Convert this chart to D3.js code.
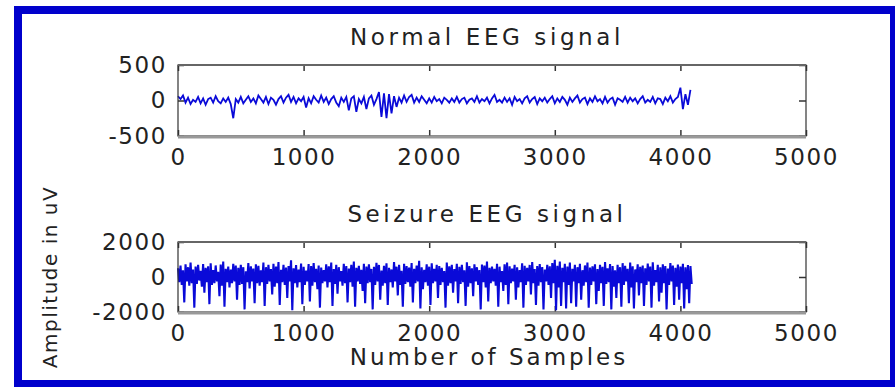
<!DOCTYPE html>
<html lang="en">
<head>
<meta charset="UTF-8">
<title>Normal vs Seizure EEG signal</title>
<script src="https://d3js.org/d3.v7.min.js"></script>
<style>
  body { margin: 0; background: #fff; }
  text { font-family: "DejaVu Sans", sans-serif; fill: #222; }
  .tick line { stroke: #333; stroke-width: 1.5; }
  .tick text { font-size: 23px; letter-spacing: 1.6px; fill: #222; }
  .title { font-size: 23px; letter-spacing: 3.6px; }
  .trace { fill: none; stroke: #0a0ad8; stroke-width: 1.8; stroke-linejoin: miter; }
  .trace.dense { stroke-width: 2.1; }
</style>
</head>
<body>
<svg id="chart" width="895" height="387"></svg>
<script>
// EEG records are 4097 samples long; values below are read at a fixed sample spacing
const normalStep = 20;
const seizureStep = 10;

const xTicks = [0, 1000, 2000, 3000, 4000, 5000];
const normalTicks = [-500, 0, 500];
const seizureTicks = [-2000, 0, 2000];

// amplitude in uV, every 20 samples
const normal = [
  60, 20, 70, -30, 40, -50, 10, -20, 50, -40,
  30, -60, 20, 40, -30, 60, -10, -40, 30, -20,
  40, -50, -250, 20, -30, 50, -40, 10, 60, -20,
  30, -40, 70, 20, -30, 50, -50, 40, 10, -60,
  20, 60, -30, 40, 80, -20, 50, -40, 30, -10,
  50, -100, 30, -40, 60, 10, -30, 70, -20, 40,
  -50, 20, 60, -30, -80, 40, -20, 50, -140, 30,
  60, -160, 20, -40, 50, -120, 30, 70, -60, 20,
  120, -230, 100, -250, 90, -180, 60, -90, 40, -30,
  70, -20, 50, 80, -30, 40, -20, 60, 10, -40,
  30, -30, 50, -10, 20, -40, 40, 10, -30, 30,
  -20, 50, -30, 20, 40, -40, 10, 30, -20, 60,
  -30, 20, -10, 40, -40, 30, 80, -20, 10, -30,
  40, -20, 30, -60, 50, -10, 20, -40, 30, 60,
  -30, 20, 50, -50, 30, -10, 40, -30, 20, 60,
  -40, 30, -20, 50, 10, -60, 40, -20, 30, 70,
  -30, 20, 40, -50, 30, -20, 60, -10, 20, -40,
  50, -30, 20, 40, -60, 30, 10, -20, 50, -30,
  40, -10, 30, -40, 20, 60, -30, 10, -20, 50,
  -40, 30, 20, -50, 40, -10, 60, -30, 20, 50,
  180, -120, 90, -60, 150
];

// amplitude in uV, every 10 samples
const seizure = [
  500, -300, 650, -450, 380, -1450, 720, -250, 560, -500,
  820, -350, 430, -1750, 600, -400, 690, -200, 350, -550,
  740, -900, 520, -300, 610, -1550, 780, -450, 400, -350,
  660, -250, 300, -1100, 710, -500, 880, -1700, 470, -300,
  590, -600, 420, -350, 760, -250, 650, -1300, 520, -450,
  700, -400, 560, -1850, 330, -300, 790, -650, 610, -250,
  480, -1500, 720, -350, 640, -500, 380, -300, 830, -1650,
  560, -400, 690, -250, 450, -1000, 760, -550, 600, -350,
  850, -1600, 410, -300, 700, -450, 540, -1200, 620, -250,
  950, -1900, 500, -350, 680, -600, 420, -300, 770, -1550,
  580, -450, 360, -250, 740, -1400, 620, -500, 800, -300,
  470, -700, 660, -1750, 540, -350, 390, -250, 720, -600,
  610, -300, 820, -1650, 450, -400, 700, -950, 560, -250,
  340, -500, 760, -350, 620, -1450, 480, -300, 690, -550,
  880, -1700, 530, -250, 640, -400, 410, -800, 750, -1500,
  600, -350, 720, -300, 460, -1850, 580, -450, 810, -250,
  690, -1300, 370, -500, 640, -350, 780, -1600, 520, -300,
  430, -600, 860, -250, 590, -1050, 700, -450, 350, -1700,
  760, -400, 620, -300, 540, -550, 800, -1450, 470, -350,
  650, -250, 920, -1800, 560, -700, 410, -300, 730, -500,
  590, -1600, 780, -350, 460, -250, 700, -1200, 630, -450,
  520, -300, 340, -1750, 820, -500, 610, -350, 700, -900,
  450, -250, 760, -1500, 580, -400, 690, -300, 380, -1650,
  840, -550, 620, -350, 500, -1100, 730, -250, 560, -450,
  400, -1850, 710, -300, 650, -600, 880, -1400, 520, -350,
  600, -250, 470, -500, 760, -1700, 590, -300, 340, -800,
  720, -450, 830, -1550, 610, -350, 480, -250, 700, -1300,
  550, -600, 390, -300, 780, -1750, 640, -450, 520, -250,
  690, -1000, 860, -350, 450, -1600, 620, -500, 740, -300,
  570, -1850, 420, -250, 700, -450, 610, -1200, 800, -350,
  980, -1900, 640, -600, 880, -1650, 520, -300, 760, -1800,
  600, -450, 830, -1500, 470, -250, 700, -1700, 560, -350,
  750, -1300, 390, -500, 660, -300, 820, -1750, 540, -450,
  610, -250, 720, -1550, 450, -800, 690, -350, 580, -1650,
  860, -400, 500, -300, 740, -1850, 620, -550, 380, -1200,
  700, -350, 560, -1700, 790, -450, 640, -250, 470, -1500,
  820, -600, 610, -1800, 430, -300, 720, -1050, 580, -350,
  660, -1650, 500, -450, 770, -250, 600, -1750, 840, -500,
  390, -300, 700, -1400, 560, -900, 730, -350, 620, -1850,
  480, -450, 800, -250, 650, -1600, 530, -550, 710, -1300,
  600, -350, 760, -1800, 550, -700, 680, -1500, 620, -400
];

const svg = d3.select("#chart");

// blue frame round the figure
svg.append("rect").attr("x", 14).attr("y", 6).attr("width", 881).attr("height", 381).attr("fill", "#0000cc");
svg.append("rect").attr("x", 22).attr("y", 14).attr("width", 868).attr("height", 366).attr("fill", "#fff");

const x = d3.scaleLinear().domain([0, 5000]).range([178, 806]);
const fmt = d3.format("d");
const label = d => fmt(d).replace("\u2212", "-");

function panel(values, step, yTicks, top, bottom, title, cls) {
  const lim = d3.max(yTicks);
  const y = d3.scaleLinear().domain([-lim, lim]).range([bottom, top]);
  const g = svg.append("g");

  g.append("g").attr("transform", `translate(0,${bottom})`)
    .call(d3.axisBottom(x).tickValues(xTicks).tickSize(-6).tickPadding(13).tickFormat(label))
    .call(a => a.select(".domain").remove());
  g.append("g").attr("transform", `translate(0,${top})`)
    .call(d3.axisTop(x).tickValues(xTicks).tickSize(-6).tickFormat(""))
    .call(a => a.select(".domain").remove());
  g.append("g").attr("transform", `translate(${x(0)},0)`)
    .call(d3.axisLeft(y).tickValues(yTicks).tickSize(-6).tickPadding(11).tickFormat(label))
    .call(a => a.select(".domain").remove());
  g.append("g").attr("transform", `translate(${x(5000)},0)`)
    .call(d3.axisRight(y).tickValues(yTicks).tickSize(-7).tickFormat(""))
    .call(a => { a.select(".domain").remove(); a.selectAll(".tick line").attr("stroke", "#777"); });
  g.selectAll(".tick text").attr("font-family", null);

  const line = d3.line().x((d, i) => x(i * step)).y(d => y(d));
  g.append("path").datum(values).attr("class", "trace " + cls).attr("d", line);

  // axes box
  g.append("rect").attr("x", x(0)).attr("y", top)
    .attr("width", x(5000) - x(0)).attr("height", bottom - top)
    .attr("fill", "none").attr("stroke", "#333").attr("stroke-width", 1.2);
  g.append("line").attr("x1", x(0)).attr("x2", x(5000)).attr("y1", top).attr("y2", top)
    .attr("stroke", "#666").attr("stroke-width", 2);
  g.append("line").attr("x1", x(0)).attr("x2", x(5000)).attr("y1", bottom + 1).attr("y2", bottom + 1)
    .attr("stroke", "#999").attr("stroke-width", 3);

  g.append("text").attr("class", "title").attr("x", 487).attr("y", top - 20)
    .attr("text-anchor", "middle").text(title);
}

panel(normal, normalStep, normalTicks, 65, 136, "Normal EEG signal", "");
panel(seizure, seizureStep, seizureTicks, 242, 312, "Seizure EEG signal", "dense");

svg.append("text").attr("x", 489).attr("y", 365).attr("text-anchor", "middle")
  .style("font-size", "23px").style("letter-spacing", "3px").text("Number of Samples");

svg.append("text").attr("transform", "translate(57,277) rotate(-90)").attr("text-anchor", "middle")
  .style("font-size", "20px").style("letter-spacing", "1.5px").text("Amplitude in uV");
</script>
</body>
</html>
